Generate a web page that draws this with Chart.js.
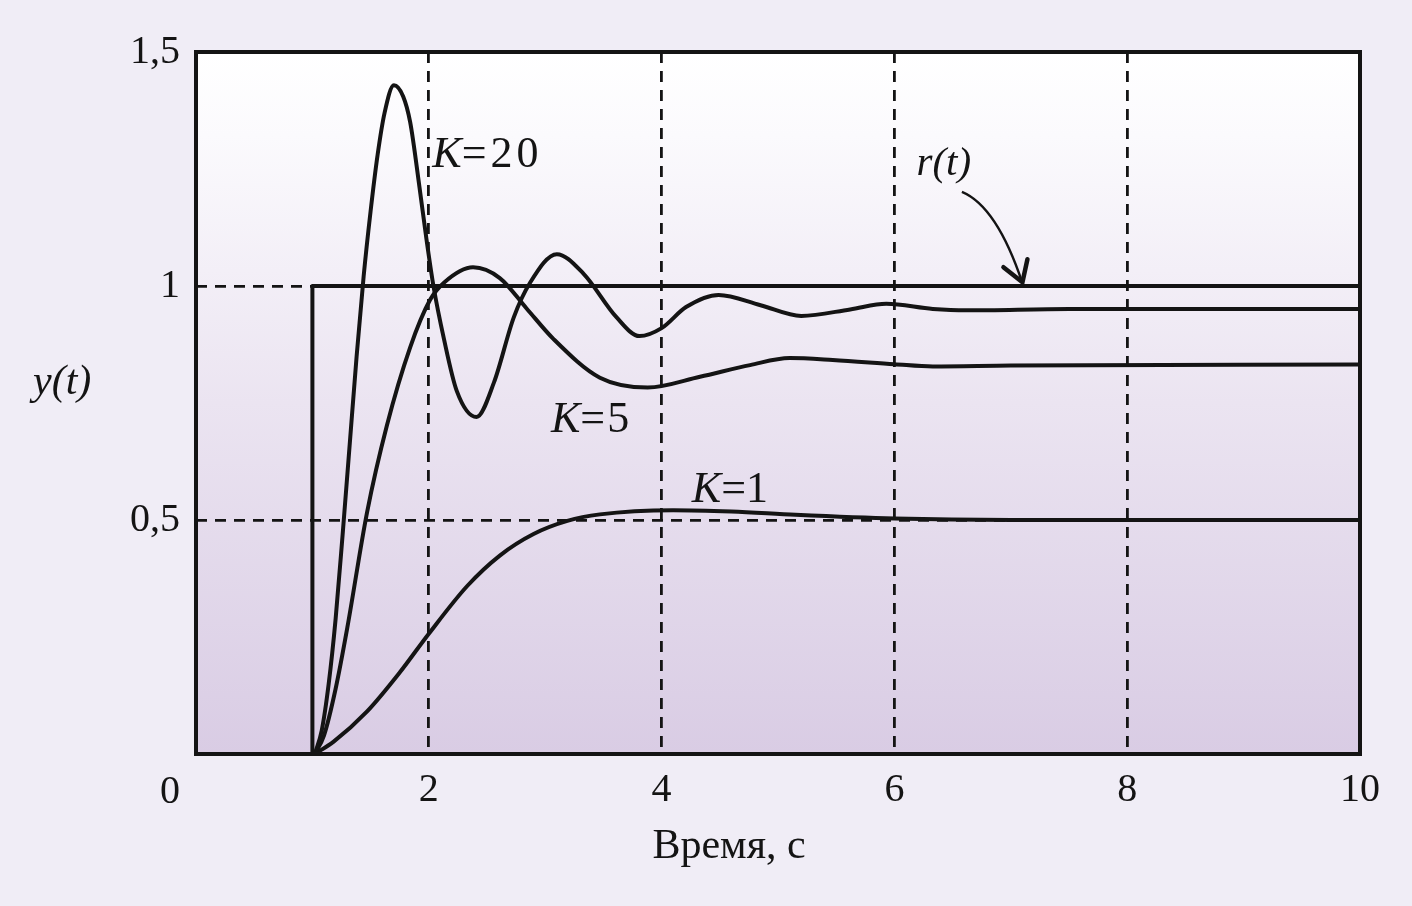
<!DOCTYPE html>
<html>
<head>
<meta charset="utf-8">
<script src="https://cdn.jsdelivr.net/npm/chart.js@4"></script>
<style>
  html, body { margin: 0; padding: 0; background: #f0edf6; }
  canvas { display: block; }
</style>
</head>
<body>
<canvas id="chart" width="1412" height="906"></canvas>
<script>
// Reference input r(t): unit step at t = 1
const rTime = [1, 1, 10];
const rValue = [0, 1, 1];

// K = 20
const k20Time = [1.02, 1.08, 1.14, 1.20, 1.26, 1.32, 1.38, 1.44, 1.50, 1.56, 1.62, 1.70, 1.78, 1.84, 1.92, 1.98, 2.04, 2.13, 2.24, 2.41, 2.56, 2.73, 2.87, 3.10, 3.33, 3.61, 3.81, 4.00, 4.21, 4.49, 4.85, 5.20, 5.62, 5.93, 6.33, 6.62, 7.5, 10];
const k20Value = [0, 0.05, 0.15, 0.29, 0.47, 0.66, 0.85, 1.02, 1.16, 1.28, 1.37, 1.429, 1.405, 1.35, 1.211, 1.10, 1.0, 0.887, 0.776, 0.72, 0.794, 0.933, 1.007, 1.068, 1.026, 0.934, 0.893, 0.91, 0.955, 0.981, 0.959, 0.936, 0.95, 0.962, 0.951, 0.948, 0.951, 0.951];

// K = 5
const k5Time = [1.02, 1.10, 1.20, 1.30, 1.47, 1.64, 1.84, 2.01, 2.13, 2.38, 2.61, 2.84, 3.07, 3.47, 3.88, 4.33, 4.76, 5.10, 5.47, 6.00, 6.33, 7.0, 10];
const k5Value = [0, 0.04, 0.14, 0.27, 0.517, 0.702, 0.869, 0.97, 1.007, 1.04, 1.017, 0.952, 0.887, 0.804, 0.783, 0.806, 0.831, 0.846, 0.842, 0.833, 0.828, 0.830, 0.832];

// K = 1
const k1Time = [1.02, 1.18, 1.47, 1.75, 2.00, 2.33, 2.61, 2.90, 3.19, 3.47, 4.10, 4.60, 5.15, 6.00, 7.0, 10];
const k1Value = [0, 0.026, 0.091, 0.174, 0.257, 0.359, 0.424, 0.470, 0.498, 0.512, 0.521, 0.518, 0.511, 0.503, 0.50, 0.50];

// Axis ticks
const xTicks = [0, 2, 4, 6, 8, 10];
const yTicks = [0, 0.5, 1, 1.5];
const yGuides = [0.5, 1];

const toPoints = (ts, vs) => ts.map((t, i) => ({ x: t, y: vs[i] }));

const SERIF = '"Liberation Serif", "DejaVu Serif", serif';
const INK = '#141414';

const plotBackground = {
    id: 'plotBackground',
    beforeDraw(chart) {
        const { ctx, chartArea: a } = chart;
        const g = ctx.createLinearGradient(0, a.top, 0, a.bottom);
        g.addColorStop(0, '#ffffff');
        g.addColorStop(0.12, '#fbfafd');
        g.addColorStop(0.5, '#ebe4f1');
        g.addColorStop(1, '#d9cce4');
        ctx.save();
        ctx.fillStyle = g;
        ctx.fillRect(a.left, a.top, a.right - a.left, a.bottom - a.top);
        ctx.restore();
    }
};

const frameAndNotes = {
    id: 'frameAndNotes',
    afterDatasetsDraw(chart) {
        const { ctx, chartArea: a, scales: { x, y } } = chart;
        ctx.save();
        ctx.strokeStyle = INK;
        ctx.lineWidth = 4;
        ctx.strokeRect(a.left, a.top, a.right - a.left, a.bottom - a.top);

        ctx.fillStyle = INK;
        ctx.textBaseline = 'alphabetic';
        ctx.textAlign = 'left';

        // curve labels: italic K, upright "=value"
        const kLabel = (tx, vy, rest, spacing) => {
            let px = x.getPixelForValue(tx);
            const py = y.getPixelForValue(vy);
            ctx.font = 'italic 44px ' + SERIF;
            ctx.letterSpacing = '0px';
            ctx.fillText('K', px, py);
            px += ctx.measureText('K').width;
            ctx.font = '44px ' + SERIF;
            ctx.letterSpacing = spacing;
            ctx.fillText(rest, px, py);
            ctx.letterSpacing = '0px';
        };
        kLabel(2.03, 1.254, '=20', '4px');
        kLabel(3.05, 0.688, '=5', '2px');
        kLabel(4.26, 0.538, '=1', '0px');

        // r(t) label and arrow
        ctx.font = 'italic 41px ' + SERIF;
        ctx.fillText('r(t)', x.getPixelForValue(6.19), y.getPixelForValue(1.237));

        const sx = x.getPixelForValue(6.58), sy = y.getPixelForValue(1.201);
        const ex = x.getPixelForValue(7.10), ey = y.getPixelForValue(1.006);
        const cx = x.getPixelForValue(6.88), cy = y.getPixelForValue(1.17);
        ctx.lineWidth = 2.4;
        ctx.beginPath();
        ctx.moveTo(sx, sy);
        ctx.quadraticCurveTo(cx, cy, ex, ey);
        ctx.stroke();
        ctx.lineWidth = 4.5;
        ctx.lineCap = 'round';
        ctx.beginPath();
        ctx.moveTo(ex - 19, ey - 16);
        ctx.lineTo(ex, ey - 1);
        ctx.lineTo(ex + 5, ey - 24);
        ctx.stroke();

        // y axis name
        ctx.font = 'italic 42px ' + SERIF;
        ctx.fillText('y(t)', 33, 394);

        // shared origin label
        ctx.font = '40px ' + SERIF;
        ctx.textAlign = 'center';
        ctx.fillText('0', 170, 803);

        // x axis name
        ctx.font = '42px ' + SERIF;
        ctx.fillText('Время, с', 729, 858);
        ctx.restore();
    }
};

new Chart(document.getElementById('chart'), {
    type: 'line',
    data: {
        datasets: [
            { label: 'r(t)', data: toPoints(rTime, rValue) },
            { label: 'K=20', data: toPoints(k20Time, k20Value), cubicInterpolationMode: 'monotone' },
            { label: 'K=5', data: toPoints(k5Time, k5Value), cubicInterpolationMode: 'monotone' },
            { label: 'K=1', data: toPoints(k1Time, k1Value), cubicInterpolationMode: 'monotone' }
        ].map(d => Object.assign(d, {
            borderColor: INK,
            borderWidth: 4,
            pointRadius: 0,
            fill: false,
            borderCapStyle: 'round',
            borderJoinStyle: 'round'
        }))
    },
    options: {
        responsive: false,
        animation: false,
        layout: { padding: { top: 52, right: 52, left: 0, bottom: 0 } },
        plugins: { legend: { display: false }, tooltip: { enabled: false } },
        scales: {
            x: {
                type: 'linear',
                min: 0,
                max: 10,
                afterBuildTicks: s => { s.ticks = xTicks.map(v => ({ value: v })); },
                afterFit: s => { s.height = 152; },
                ticks: {
                    padding: 12,
                    color: INK,
                    maxRotation: 0,
                    font: { family: SERIF, size: 40 },
                    callback: v => (v === 0 ? '' : String(v))
                },
                grid: {
                    drawTicks: false,
                    lineWidth: 2.8,
                    color: c => (c.tick && c.tick.value > 0 && c.tick.value < 10 ? INK : 'rgba(0,0,0,0)')
                },
                border: { display: false, dash: [11, 8] }
            },
            y: {
                min: 0,
                max: 1.5,
                afterBuildTicks: s => { s.ticks = yTicks.map(v => ({ value: v })); },
                afterFit: s => { s.width = 196; },
                ticks: {
                    padding: 16,
                    color: INK,
                    font: { family: SERIF, size: 40 },
                    callback: v => (v === 0 ? '' : String(v).replace('.', ','))
                },
                grid: {
                    drawTicks: false,
                    lineWidth: 2.8,
                    color: c => (c.tick && yGuides.includes(c.tick.value) ? INK : 'rgba(0,0,0,0)')
                },
                border: { display: false, dash: [11, 8] }
            }
        }
    },
    plugins: [plotBackground, frameAndNotes]
});
</script>
</body>
</html>
